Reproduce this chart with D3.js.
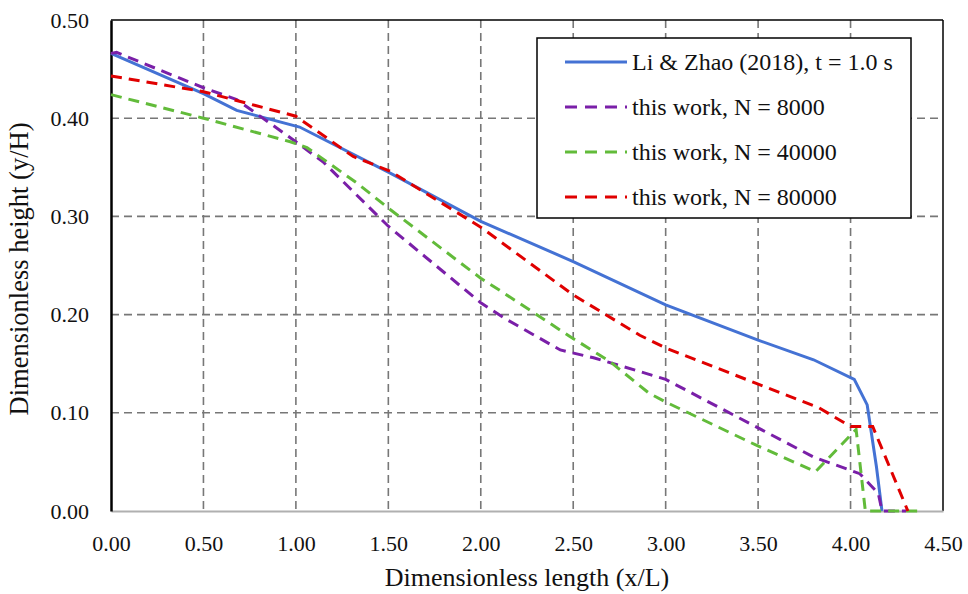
<!DOCTYPE html>
<html>
<head>
<meta charset="utf-8">
<script src="https://cdn.jsdelivr.net/npm/d3@7"></script>
<style>
  body { margin: 0; background: #fff; }
  svg text { font-family: "Liberation Serif", "Times New Roman", serif; fill: #111; }
</style>
</head>
<body>
<div id="chart"></div>
<script>
const liZhao = [[0, 0.466], [0.5, 0.425], [0.68, 0.408], [1.02, 0.391], [1.5, 0.345], [2.0, 0.295],
  [2.5, 0.254], [3.0, 0.210], [3.5, 0.174], [3.8, 0.154], [4.02, 0.134], [4.09, 0.108], [4.14, 0.045], [4.17, 0]];
const n8000 = [[0, 0.466], [0.03, 0.467], [0.5, 0.431], [0.68, 0.419], [1.0, 0.376], [1.15, 0.355], [1.5, 0.29],
  [2.0, 0.212], [2.14, 0.195], [2.43, 0.164], [2.61, 0.156], [2.86, 0.142], [3.0, 0.134], [3.8, 0.055],
  [4.05, 0.038], [4.15, 0.018], [4.17, 0], [4.3, 0]];
const n40000 = [[0, 0.424], [0.5, 0.40], [0.97, 0.376], [1.06, 0.37], [1.33, 0.334], [1.51, 0.307], [2.0, 0.237],
  [2.1, 0.225], [2.48, 0.178], [2.7, 0.152], [2.91, 0.12], [3.0, 0.111], [3.49, 0.067], [3.81, 0.04],
  [4.03, 0.083], [4.08, 0], [4.37, 0]];
const n80000 = [[0, 0.443], [0.5, 0.427], [1.0, 0.402], [1.31, 0.361], [1.51, 0.346], [2.0, 0.289], [2.5, 0.22],
  [2.86, 0.179], [3.0, 0.166], [3.49, 0.13], [3.83, 0.105], [4.0, 0.086], [4.12, 0.086], [4.31, 0]];

const seriesNames = ["Li & Zhao (2018), t = 1.0 s", "this work, N = 8000", "this work, N = 40000", "this work, N = 80000"];
const seriesData = [liZhao, n8000, n40000, n80000];
const seriesColors = ["#4472d4", "#7a1fa8", "#62bb3a", "#e00000"];
const seriesDash = [null, "11,7", "11,7", "11,7"];

const xTicks = [0, 0.5, 1, 1.5, 2, 2.5, 3, 3.5, 4, 4.5];
const yTicks = [0, 0.1, 0.2, 0.3, 0.4, 0.5];

const width = 968, height = 594;
const svg = d3.select("#chart").append("svg").attr("width", width).attr("height", height);

const x = d3.scaleLinear().domain([0, 4.5]).range([111, 943]);
const y = d3.scaleLinear().domain([0, 0.5]).range([511, 20]);

// grid
svg.append("g").selectAll("line").data(xTicks.filter(d => d > 0 && d < 4.5)).join("line")
  .attr("x1", d => x(d)).attr("x2", d => x(d)).attr("y1", y(0.5)).attr("y2", y(0))
  .attr("stroke", "#777").attr("stroke-width", 1.6).attr("stroke-dasharray", "8,5");
svg.append("g").selectAll("line").data(yTicks.filter(d => d > 0 && d < 0.5)).join("line")
  .attr("x1", x(0)).attr("x2", x(4.5)).attr("y1", d => y(d)).attr("y2", d => y(d))
  .attr("stroke", "#777").attr("stroke-width", 1.6).attr("stroke-dasharray", "8,5");

// frame
svg.append("line").attr("x1", x(0)).attr("x2", x(4.5)).attr("y1", y(0.5)).attr("y2", y(0.5))
  .attr("stroke", "#000").attr("stroke-width", 1.5);
svg.append("line").attr("x1", x(4.5)).attr("x2", x(4.5)).attr("y1", y(0.5)).attr("y2", y(0))
  .attr("stroke", "#000").attr("stroke-width", 1.5);

// axes
const xAxis = svg.append("g").attr("transform", `translate(0,${y(0)})`)
  .call(d3.axisBottom(x).tickValues(xTicks).tickSize(0).tickPadding(24).tickFormat(d3.format(".2f")));
xAxis.select(".domain").attr("stroke", "#b0b0b0").attr("stroke-width", 2);
const yAxis = svg.append("g").attr("transform", `translate(${x(0)},0)`)
  .call(d3.axisLeft(y).tickValues(yTicks).tickSize(0).tickPadding(22).tickFormat(d3.format(".2f")));
yAxis.select(".domain").attr("stroke", "#000").attr("stroke-width", 2.5);
svg.selectAll(".tick text").style("font-family", "Liberation Serif, serif").style("font-size", "22px").attr("fill", "#111");

// lines
const line = d3.line().x(d => x(d[0])).y(d => y(d[1]));
svg.append("g").selectAll("path").data(seriesData).join("path")
  .attr("d", line)
  .attr("fill", "none")
  .attr("stroke", (d, i) => seriesColors[i])
  .attr("stroke-width", 3)
  .attr("stroke-dasharray", (d, i) => seriesDash[i]);

// axis titles
svg.append("text").attr("x", 527).attr("y", 586).attr("text-anchor", "middle")
  .style("font-size", "26px").text("Dimensionless length (x/L)");
svg.append("text").attr("transform", "translate(28,269) rotate(-90)").attr("text-anchor", "middle")
  .style("font-size", "26.5px").text("Dimensionless height (y/H)");

// legend
const lg = svg.append("g");
lg.append("rect").attr("x", 537).attr("y", 38).attr("width", 374).attr("height", 180)
  .attr("fill", "#fff").attr("stroke", "#000").attr("stroke-width", 1.5);
const rows = lg.selectAll("g.row").data(seriesNames).join("g")
  .attr("transform", (d, i) => `translate(0,${62 + i * 45})`);
rows.append("line").attr("x1", 565).attr("x2", 627).attr("y1", 0).attr("y2", 0)
  .attr("stroke", (d, i) => seriesColors[i]).attr("stroke-width", 3)
  .attr("stroke-dasharray", (d, i) => seriesDash[i] ? "12,8" : null);
rows.append("text").attr("x", 632).attr("y", 8).style("font-size", "24px").text(d => d);
</script>
</body>
</html>
